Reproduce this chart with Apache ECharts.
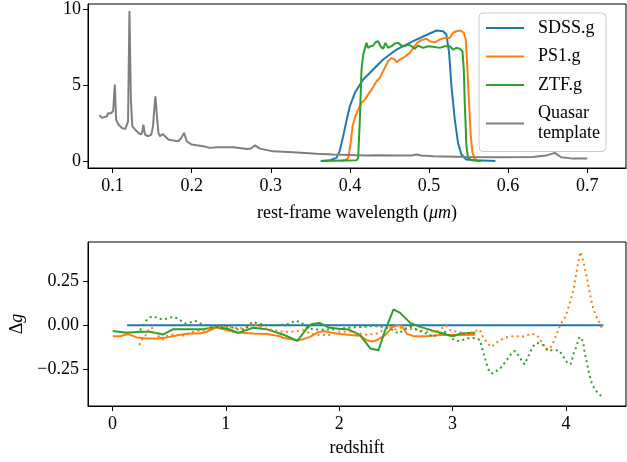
<!DOCTYPE html>
<html>
<head>
<meta charset="utf-8">
<script src="https://cdn.jsdelivr.net/npm/echarts@6/dist/echarts.min.js"></script>
<style>html,body{margin:0;padding:0;background:#fff;}#c{width:627px;height:462px;}</style>
</head>
<body>
<div id="c"></div>
<script>
// ---------- Top panel: rest-frame wavelength (um) ----------
const quasarX = [0.0835,0.0865,0.089,0.0928,0.0945,0.096,0.098,0.0995,0.1008,0.1029,0.1045,0.1075,0.1095,0.1117,0.114,0.116,0.118,0.1196,0.1214,0.1232,0.125,0.1285,0.1305,0.1327,0.136,0.1375,0.139,0.141,0.1453,0.149,0.1512,0.1525,0.1542,0.1558,0.158,0.16,0.1635,0.1664,0.1706,0.177,0.1832,0.187,0.1904,0.1938,0.2,0.2065,0.2148,0.2232,0.2317,0.2527,0.27,0.275,0.28,0.2864,0.303,0.3284,0.358,0.379,0.421,0.434,0.463,0.478,0.484,0.49,0.5053,0.547,0.589,0.631,0.648,0.659,0.667,0.682,0.70];
const quasarY = [3.02,2.84,2.9,2.95,3.15,3.06,3.15,3.1,3.3,5.05,2.73,2.4,2.3,2.18,2.25,2.1,2.2,2.6,9.9,4.0,2.3,2.07,2.0,1.85,1.74,1.9,2.4,1.74,1.63,1.74,2.3,3.28,4.27,3.15,1.85,1.63,1.78,1.63,1.41,1.34,1.3,1.52,1.85,1.3,1.08,1.03,0.97,0.86,0.9,0.9,0.79,0.82,1.03,0.81,0.63,0.57,0.48,0.42,0.35,0.38,0.35,0.36,0.42,0.36,0.3,0.26,0.24,0.26,0.35,0.53,0.24,0.15,0.15];

const sdssFiltX = [0.363,0.375,0.383,0.387,0.3915,0.396,0.40,0.4063,0.4168,0.4294,0.442,0.459,0.48,0.501,0.5095,0.5178,0.522,0.5254,0.5284,0.5326,0.5367,0.541,0.547,0.56,0.584];
const sdssFiltY = [0.0,0.04,0.2,0.63,1.63,2.73,3.61,4.5,5.38,6.04,6.7,7.36,7.91,8.42,8.62,8.57,8.35,7.14,4.93,2.73,1.19,0.42,0.09,0.04,0.0];

const ps1FiltX = [0.389,0.3937,0.398,0.401,0.4034,0.4063,0.4105,0.4147,0.419,0.423,0.4274,0.4337,0.4379,0.442,0.4484,0.4526,0.4568,0.459,0.4631,0.4694,0.4757,0.48,0.485,0.4905,0.4968,0.501,0.5073,0.5136,0.52,0.5262,0.5304,0.5347,0.5397,0.5439,0.5465,0.5486,0.5506,0.5528,0.555,0.558,0.562];
const ps1FiltY = [0.0,0.04,0.2,1.19,2.29,2.84,3.39,3.84,4.05,4.38,4.72,5.26,5.49,5.93,6.59,6.81,6.7,6.52,6.7,6.88,7.14,7.47,7.8,7.98,8.07,7.91,7.84,8.02,8.13,8.13,8.47,8.57,8.62,8.47,8.02,6.04,3.84,1.63,0.53,0.13,0.0];

const ztfFiltX = [0.364,0.4085,0.4105,0.4126,0.4147,0.4168,0.419,0.421,0.423,0.4261,0.4294,0.4325,0.4357,0.4388,0.442,0.445,0.4484,0.4526,0.4568,0.461,0.4653,0.4694,0.4736,0.478,0.482,0.4862,0.4925,0.4989,0.5052,0.5136,0.52,0.5262,0.5304,0.5347,0.5389,0.5423,0.544,0.5452,0.5473,0.5494,0.5536,0.566];
const ztfFiltY = [0.0,0.04,0.2,2.73,6.04,7.03,7.14,7.8,7.47,7.58,7.62,7.84,7.91,7.58,7.41,7.8,7.47,7.58,7.76,7.8,7.62,7.58,7.69,7.58,7.41,7.62,7.47,7.58,7.54,7.47,7.58,7.58,7.36,7.47,7.41,7.25,6.04,3.84,0.97,0.2,0.04,0.0];

const topXTicks = [0.1,0.2,0.3,0.4,0.5,0.6,0.7];
const topYTicks = [0,5,10];

// ---------- Bottom panel: redshift vs delta g ----------
const sdssZ = [0.13,1.0,2.0,3.0,4.0,4.33];
const sdssDg = [0,0,0,0,0,0];

const ps1SolidZ = [0.003,0.067,0.14,0.214,0.303,0.39,0.48,0.597,0.685,0.773,0.832,0.92,1.01,1.097,1.24,1.36,1.48,1.508,1.597,1.627,1.685,1.744,1.803,1.861,1.935,2.009,2.097,2.185,2.244,2.289,2.333,2.406,2.465,2.523,2.553,2.6,2.656,2.774,2.89,2.98,3.068,3.2];
const ps1SolidDg = [-0.063,-0.063,-0.051,-0.07,-0.076,-0.076,-0.07,-0.055,-0.048,-0.048,-0.038,-0.013,-0.029,-0.042,-0.048,-0.051,-0.063,-0.074,-0.082,-0.086,-0.08,-0.067,-0.044,-0.034,-0.044,-0.051,-0.057,-0.061,-0.086,-0.093,-0.086,-0.057,-0.013,0.0,-0.006,-0.051,-0.063,-0.063,-0.057,-0.057,-0.057,-0.055];

const ztfSolidZ = [0.003,0.126,0.244,0.33,0.45,0.537,0.656,0.8,0.92,1.01,1.11,1.24,1.36,1.51,1.632,1.715,1.759,1.826,1.906,1.994,2.082,2.185,2.274,2.347,2.406,2.48,2.538,2.627,2.715,2.832,2.921,2.98,3.01,3.068,3.2];
const ztfSolidDg = [-0.034,-0.044,-0.038,-0.038,-0.053,-0.023,-0.023,-0.023,-0.01,-0.019,-0.044,-0.015,-0.023,-0.055,-0.09,-0.019,0.006,0.013,-0.013,-0.021,-0.025,-0.057,-0.133,-0.143,-0.029,0.09,0.07,0.013,-0.01,-0.033,-0.048,-0.06,-0.063,-0.048,-0.044];

const ps1DotZ = [0.237,0.26,0.29,0.317,0.347,0.376,0.414,0.444,0.48,0.537,0.611,0.714,0.8,0.89,0.95,1.01,1.126,1.2,1.24,1.3,1.42,1.51,1.597,1.685,1.744,1.832,1.92,1.98,2.04,2.126,2.215,2.274,2.333,2.39,2.435,2.494,2.553,2.627,2.7,2.79,2.876,2.92,2.95,2.98,3.04,3.127,3.186,3.24,3.26,3.29,3.318,3.348,3.377,3.42,3.465,3.51,3.568,3.612,3.66,3.7,3.745,3.774,3.803,3.833,3.862,3.892,3.921,3.944,3.966,3.995,4.024,4.054,4.074,4.092,4.109,4.127,4.142,4.162,4.186,4.209,4.233,4.262,4.292,4.31,4.324];
const ps1DotDg = [-0.114,-0.086,-0.063,-0.029,-0.013,-0.048,-0.067,-0.082,-0.063,-0.053,-0.061,-0.038,-0.029,-0.015,-0.011,-0.011,-0.019,-0.01,0.01,-0.01,-0.029,-0.038,-0.036,-0.029,-0.048,-0.057,-0.057,-0.038,-0.038,-0.038,-0.053,-0.053,-0.048,-0.029,-0.006,-0.025,-0.013,-0.021,-0.029,-0.038,-0.034,-0.01,-0.004,-0.029,-0.038,-0.048,-0.038,-0.025,-0.057,-0.086,-0.11,-0.124,-0.104,-0.086,-0.072,-0.065,-0.063,-0.067,-0.057,-0.05,-0.057,-0.086,-0.114,-0.143,-0.13,-0.095,-0.044,-0.01,0.019,0.047,0.104,0.171,0.228,0.295,0.361,0.418,0.396,0.342,0.266,0.19,0.114,0.057,0.019,-0.004,-0.034];

const ztfDotZ = [0.244,0.267,0.297,0.326,0.361,0.405,0.455,0.508,0.546,0.597,0.64,0.685,0.73,0.773,0.817,0.89,0.98,1.04,1.11,1.17,1.235,1.288,1.36,1.45,1.538,1.62,1.67,1.73,1.803,1.876,1.95,2.024,2.112,2.2,2.274,2.347,2.406,2.48,2.523,2.567,2.627,2.686,2.744,2.79,2.827,2.876,2.935,2.95,3.015,3.059,3.103,3.156,3.209,3.244,3.253,3.268,3.283,3.297,3.312,3.327,3.356,3.397,3.436,3.465,3.494,3.524,3.553,3.583,3.612,3.635,3.656,3.68,3.7,3.73,3.759,3.803,3.838,3.892,3.935,3.966,3.995,4.024,4.045,4.068,4.092,4.106,4.12,4.136,4.15,4.165,4.186,4.207,4.23,4.26,4.297,4.327];
const ztfDotDg = [-0.029,-0.006,0.025,0.044,0.051,0.038,0.032,0.044,0.047,0.029,0.01,0.015,0.025,0.01,0.0,-0.006,-0.004,-0.01,-0.025,-0.025,0.019,0.01,0.0,0.0,0.004,0.025,0.013,-0.019,-0.025,-0.025,-0.025,-0.019,-0.013,-0.01,-0.006,-0.006,-0.013,-0.029,-0.048,-0.029,-0.01,-0.025,-0.044,-0.051,-0.067,-0.048,-0.038,-0.038,-0.086,-0.091,-0.082,-0.072,-0.076,-0.086,-0.114,-0.148,-0.181,-0.213,-0.244,-0.27,-0.276,-0.257,-0.238,-0.209,-0.187,-0.156,-0.148,-0.175,-0.205,-0.224,-0.194,-0.162,-0.133,-0.104,-0.104,-0.114,-0.143,-0.143,-0.143,-0.167,-0.2,-0.224,-0.219,-0.162,-0.124,-0.095,-0.067,-0.057,-0.091,-0.152,-0.219,-0.281,-0.338,-0.371,-0.396,-0.418];

const botXTicks = [0,1,2,3,4];
const botYTicks = [-0.25,0,0.25];

// ---------- build ----------
const zip = (xs, ys) => xs.map((x, i) => [x, ys[i]]);
const FONT = 'Liberation Serif';
const BLUE = '#1f77b4', ORANGE = '#ff7f0e', GREEN = '#2ca02c', GREY = '#7f7f7f';
const DOT = [2, 3.4];

function xAxisCfg(gi, min, max, ticks, fmt, name, gap, rich) {
  return {
    type: 'value', gridIndex: gi, min: min, max: max,
    splitLine: {show: false},
    axisLine: {show: true, onZero: false, lineStyle: {color: '#000', width: 1}},
    axisTick: {show: true, length: 5, customValues: ticks, lineStyle: {color: '#000', width: 1}},
    axisLabel: {customValues: ticks, formatter: fmt, fontFamily: FONT, fontSize: 18, color: '#000', margin: 9},
    name: name, nameLocation: 'middle', nameGap: gap,
    nameTextStyle: {fontFamily: FONT, fontSize: 18, color: '#000', rich: rich}
  };
}
function yAxisCfg(gi, min, max, ticks, fmt, margin) {
  return {
    type: 'value', gridIndex: gi, min: min, max: max,
    splitLine: {show: false},
    axisLine: {show: true, onZero: false, lineStyle: {color: '#000', width: 1}},
    axisTick: {show: true, length: 5, customValues: ticks, lineStyle: {color: '#000', width: 1}},
    axisLabel: {customValues: ticks, formatter: fmt, fontFamily: FONT, fontSize: 18, color: '#000', margin: margin}
  };
}
function line(name, xi, data, color, dashed) {
  return {
    type: 'line', name: name, xAxisIndex: xi, yAxisIndex: xi, data: data,
    symbol: 'none', showSymbol: false, silent: true, animation: false,
    lineStyle: {color: color, width: 2, type: dashed ? DOT : 'solid', cap: 'butt'},
    itemStyle: {color: color}
  };
}

const chart = echarts.init(document.getElementById('c'));
const botY = yAxisCfg(1, -0.462, 0.475, botYTicks,
  v => (v < 0 ? '\u2212' : '') + Math.abs(v).toFixed(2), 9);
botY.name = '{d|\u0394}{g|g}';
botY.nameLocation = 'middle';
botY.nameRotate = 90;
botY.nameGap = 62;
botY.nameTextStyle = {fontFamily: FONT, fontSize: 18, color: '#000',
  rich: {d: {fontFamily: FONT, fontSize: 18, color: '#000'}, g: {fontFamily: FONT, fontSize: 18, fontStyle: 'italic', color: '#000'}}};

chart.setOption({
  animation: false,
  backgroundColor: '#fff',
  grid: [
    {left: 88, top: 4, width: 538, height: 164, show: true, borderColor: '#000', borderWidth: 1, backgroundColor: 'transparent'},
    {left: 88, top: 242, width: 538, height: 164, show: true, borderColor: '#000', borderWidth: 1, backgroundColor: 'transparent'}
  ],
  xAxis: [
    xAxisCfg(0, 0.069, 0.749, topXTicks, v => v.toFixed(1),
      'rest-frame wavelength ({i|\u03bcm})', 36,
      {i: {fontFamily: FONT, fontSize: 18, fontStyle: 'italic', color: '#000'}}),
    xAxisCfg(1, -0.215, 4.53, botXTicks, v => String(v), 'redshift', 33, {})
  ],
  yAxis: [
    yAxisCfg(0, -0.47, 10.37, topYTicks, v => String(v), 7),
    botY
  ],
  legend: {
    data: ['SDSS.g', 'PS1.g', 'ZTF.g', 'Quasar template'],
    orient: 'vertical', left: 479, top: 13,
    icon: 'rect', itemWidth: 38, itemHeight: 2, itemGap: 8.5,
    padding: [5, 6, 8, 7],
    backgroundColor: 'rgba(255,255,255,0.8)', borderColor: '#ccc', borderWidth: 1, borderRadius: 4,
    selectedMode: false,
    formatter: n => n === 'Quasar template' ? 'Quasar\ntemplate' : n,
    textStyle: {fontFamily: FONT, fontSize: 18, color: '#000', lineHeight: 20, padding: [0, 0, 0, 9]}
  },
  series: [
    line('SDSS.g', 0, zip(sdssFiltX, sdssFiltY), BLUE),
    line('PS1.g', 0, zip(ps1FiltX, ps1FiltY), ORANGE),
    line('ZTF.g', 0, zip(ztfFiltX, ztfFiltY), GREEN),
    line('Quasar template', 0, zip(quasarX, quasarY), GREY),
    line('SDSS.g dg', 1, zip(sdssZ, sdssDg), BLUE),
    line('PS1.g dg', 1, zip(ps1SolidZ, ps1SolidDg), ORANGE),
    line('ZTF.g dg', 1, zip(ztfSolidZ, ztfSolidDg), GREEN),
    line('PS1.g dg dotted', 1, zip(ps1DotZ, ps1DotDg), ORANGE, true),
    line('ZTF.g dg dotted', 1, zip(ztfDotZ, ztfDotDg), GREEN, true)
  ]
});
</script>
</body>
</html>
